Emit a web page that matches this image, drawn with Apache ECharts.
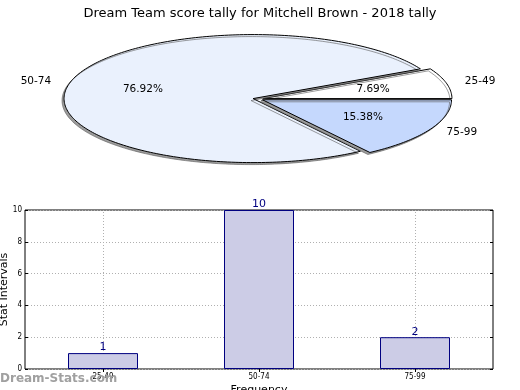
<!DOCTYPE html>
<html><head><meta charset="utf-8">
<script src="https://cdn.jsdelivr.net/npm/echarts@6/dist/echarts.min.js"></script>
<style>html,body{margin:0;padding:0;background:#fff}#c{width:520px;height:390px}</style>
</head><body><div id="c"></div>
<script>
var titleText = 'Dream Team score tally for Mitchell Brown - 2018 tally';
var categories = ['25-49', '50-74', '75-99'];
var counts = [1, 10, 2];
var pieColors = ['#ffffff', '#eaf1fd', '#c5d8fd'];
var yTicks = [0, 2, 4, 6, 8, 10];

var total = counts.reduce(function (a, b) { return a + b; }, 0);
var starts = [];
var acc = 0;
counts.forEach(function (v) { starts.push(acc); acc += v; });

// pie layout (ellipse)
var PC = { cx: 258, cy: 99, rx: 189, ry: 64, explode: 0.027 };

function pt(ang, r, ox, oy) {
  return [ox + PC.rx * r * Math.cos(ang), oy - PC.ry * r * Math.sin(ang)];
}

function renderSlice(params, api) {
  var i = params.dataIndex;
  var v = api.value(1);
  var a0 = starts[i] / total * 2 * Math.PI;
  var a1 = (starts[i] + v) / total * 2 * Math.PI;
  var mid = (a0 + a1) / 2;
  var off = pt(mid, PC.explode, 0, 0);
  var ox = PC.cx + off[0], oy = PC.cy + off[1];
  var pts = [[ox, oy]];
  var n = Math.max(8, Math.ceil((a1 - a0) / 0.02));
  for (var k = 0; k <= n; k++) {
    pts.push(pt(a0 + (a1 - a0) * k / n, 1, ox, oy));
  }
  var pct = (v / total * 100).toFixed(2) + '%';
  var pp = pt(mid, 0.6, ox, oy);
  var lp = pt(mid, 1.1, ox, oy);
  var left = Math.cos(mid) < 0;
  return {
    type: 'group',
    children: [
      { type: 'polygon', shape: { points: pts }, z2: 1,
        style: { fill: pieColors[i], stroke: '#000', lineWidth: 1,
                 shadowColor: 'rgba(90,90,90,0.6)', shadowOffsetX: -2, shadowOffsetY: 2, shadowBlur: 0.01 } },
      { type: 'text', x: pp[0], y: pp[1], z2: 5,
        style: { text: pct, fill: '#000', font: '10.5px "DejaVu Sans"', align: 'center', verticalAlign: 'middle' } },
      { type: 'text', x: lp[0], y: lp[1], z2: 5,
        style: { text: categories[i], fill: '#000', font: '10.5px "DejaVu Sans"', align: left ? 'right' : 'left', verticalAlign: 'middle' } }
    ]
  };
}

var chart = echarts.init(document.getElementById('c'), null, { renderer: 'canvas' });
chart.setOption({
  animation: false,
  backgroundColor: '#fff',
  textStyle: { fontFamily: 'DejaVu Sans' },
  title: { text: titleText, left: 'center', top: 2,
    textStyle: { fontSize: 13, fontWeight: 'normal', color: '#000', fontFamily: 'DejaVu Sans' } },
  graphic: [
    { type: 'text', left: 0, top: 373, z: 100,
      style: { text: 'Dream-Stats.com', fill: '#a0a0a0', font: 'bold 12px "DejaVu Sans"' } }
  ],
  grid: { left: 25, right: 27, top: 210, bottom: 21, show: true, borderColor: '#000', borderWidth: 1,
    containLabel: false, outerBoundsMode: 'none' },
  xAxis: [
    { type: 'category', data: categories, boundaryGap: true,
      name: 'Frequency', nameLocation: 'middle', nameGap: 16, nameMoveOverlap: false,
      nameTextStyle: { fontSize: 11, color: '#000' },
      axisLine: { show: false },
      axisTick: { show: true, inside: true, alignWithLabel: true, length: 3, lineStyle: { color: '#000' } },
      axisLabel: { fontSize: 8, color: '#000', margin: 4, fontFamily: 'Liberation Sans Narrow, DejaVu Sans Condensed' },
      splitLine: { show: false } },
    { type: 'category', data: categories, boundaryGap: true, position: 'top',
      axisLine: { show: false }, axisLabel: { show: false },
      axisTick: { show: true, inside: true, alignWithLabel: true, length: 3, lineStyle: { color: '#000' } } }
  ],
  yAxis: [
    { type: 'value', min: 0, max: 10, interval: 2,
      name: 'Stat Intervals', nameLocation: 'middle', nameGap: 15, nameRotate: 90, nameMoveOverlap: false,
      nameTextStyle: { fontSize: 11, color: '#000' },
      axisLine: { show: false },
      axisTick: { show: true, inside: true, length: 3, lineStyle: { color: '#000' } },
      axisLabel: { fontSize: 8, color: '#000', margin: 3, fontFamily: 'Liberation Sans Narrow, DejaVu Sans Condensed' },
      splitLine: { show: true, lineStyle: { color: '#b0b0b0', type: [1, 2], width: 1 } } },
    { type: 'value', min: 0, max: 10, interval: 2, position: 'right',
      axisLine: { show: false }, axisLabel: { show: false },
      axisTick: { show: true, inside: true, length: 3, lineStyle: { color: '#000' } },
      splitLine: { show: false } }
  ],
  series: [
    { type: 'custom', coordinateSystem: 'none', renderItem: renderSlice,
      data: counts.map(function (v, i) { return [i, v]; }), silent: true },
    { type: 'bar', xAxisIndex: 0, yAxisIndex: 0, data: counts, barWidth: 70, z: 3,
      itemStyle: { color: '#cccce6', borderColor: '#000080', borderWidth: 1 },
      label: { show: true, position: 'top', distance: 0, color: '#000080', fontSize: 11 },
      markLine: { silent: true, symbol: 'none', label: { show: false }, z: 2,
        lineStyle: { color: '#b0b0b0', type: [1, 2], width: 1 },
        data: categories.map(function (c) { return { xAxis: c }; }) } }
  ]
});
</script></body></html>
